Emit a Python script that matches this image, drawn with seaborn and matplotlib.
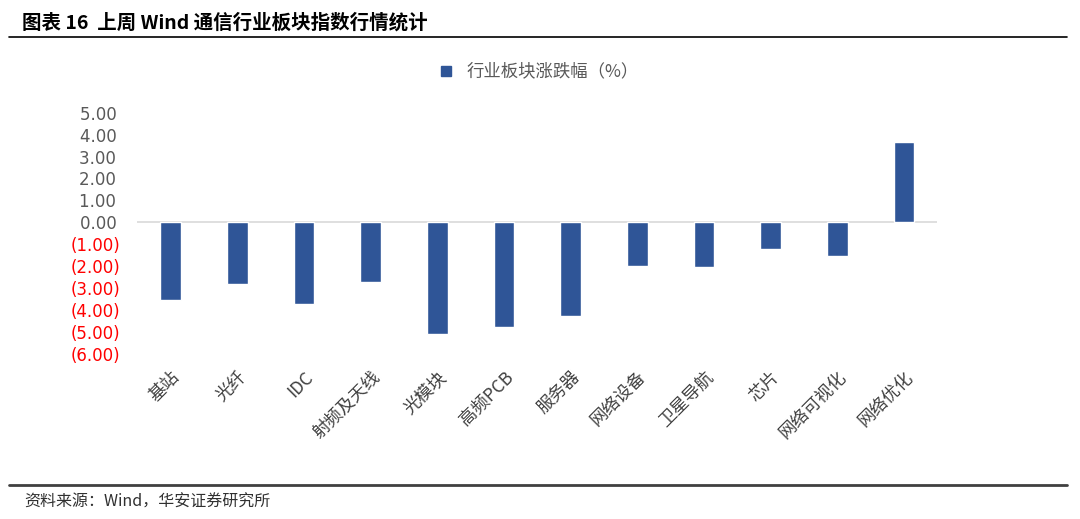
import seaborn as sns
import matplotlib.pyplot as plt
import numpy as np
from matplotlib.lines import Line2D

sns.set_style("white")
plt.rcParams['font.family'] = ['Noto Sans CJK SC', 'DejaVu Sans']

# 行业板块涨跌幅 (%)
sectors = ['基站', '光纤', 'IDC', '射频及天线', '光模块', '高频PCB', '服务器',
           '网络设备', '卫星导航', '芯片', '网络可视化', '网络优化']
changes = [-3.56, -2.80, -3.74, -2.71, -5.10, -4.75, -4.26,
           -2.00, -2.02, -1.22, -1.55, 3.67]
yticks = [5, 4, 3, 2, 1, 0, -1, -2, -3, -4, -5, -6]

bar_col = '#2F5597'

fig = plt.figure(figsize=(10.8, 5.19), dpi=100)
ax = fig.add_axes([0.127, 0.318, 0.741, 0.465])

sns.barplot(x=sectors, y=changes, color=bar_col, saturation=1, width=0.31, ax=ax)
ax.set_ylim(-6, 5)
ax.set_xlim(-0.5, len(sectors) - 0.5)
ax.axhline(0, color='#d9d9d9', lw=1.2, zorder=0)
for s in ax.spines.values():
    s.set_visible(False)
ax.tick_params(length=0)
ax.set_xlabel('')
ax.set_ylabel('')

# y tick labels: accounting style, negatives in red with brackets
ax.set_yticks(yticks)
labs = []
for v in yticks:
    if v < 0:
        labs.append('({:.2f})'.format(-v))
    else:
        labs.append('{:.2f}\u2005'.format(v))
ax.set_yticklabels(labs, fontsize=12)
for t, v in zip(ax.get_yticklabels(), yticks):
    t.set_fontfamily(['DejaVu Sans'])
    t.set_color('#ff0000' if v < 0 else '#595959')
ax.tick_params(axis='y', pad=12)

ax.set_xticks(range(len(sectors)))
ax.set_xticklabels(sectors, rotation=45, ha='right', va='top',
                   rotation_mode='anchor', fontsize=12.5, color='#404040')
ax.tick_params(axis='x', pad=10)

# legend
h = Line2D([], [], marker='s', ls='', color=bar_col, markersize=6.5)
fig.legend([h], ['行业板块涨跌幅（%）'], loc='center', bbox_to_anchor=(0.494, 0.862),
           frameon=False, fontsize=12.5, handletextpad=0.2, labelcolor='#595959')

# title and rules
fig.text(0.02, 0.957, '图表 16  上周 Wind 通信行业板块指数行情统计', fontsize=14,
         fontweight='bold', va='center', ha='left', color='#000000')
fig.add_artist(Line2D([0.008, 0.988], [0.928, 0.928], color='#000000', lw=1.2))
fig.add_artist(Line2D([0.008, 0.988], [0.065, 0.065], color='#404040', lw=2))
fig.text(0.022, 0.033, '资料来源：Wind，华安证券研究所', fontsize=11.5,
         va='center', ha='left', color='#303030')

fig.savefig('out.png', dpi=100)
